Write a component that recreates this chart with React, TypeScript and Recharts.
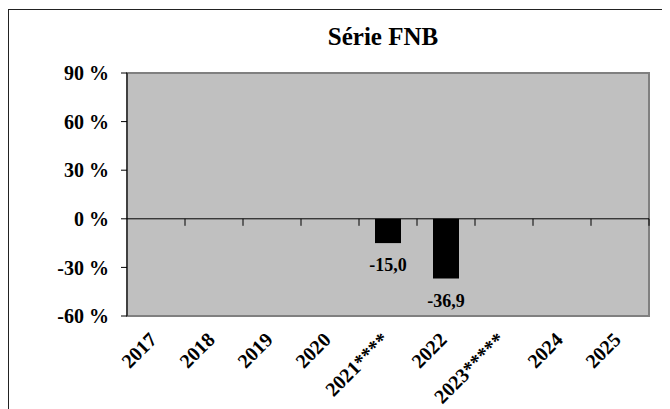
import { BarChart, Bar, XAxis, YAxis, ReferenceArea, ReferenceLine, LabelList } from 'recharts'

const years = ['2017', '2018', '2019', '2020', '2021****', '2022', '2023*****', '2024', '2025']
const fnb: (number | null)[] = [null, null, null, null, -15.0, -36.9, null, null, null]
const yTicks = [-60, -30, 0, 30, 60, 90]

const data = years.map((year, i) => ({ year, fnb: fnb[i] }))

const FONT = '"Liberation Serif", "Times New Roman", serif'

// zero line with small tick marks at the category boundaries
const ZeroAxis = (props: any) => {
  const x1 = Number(props.x1)
  const x2 = Number(props.x2)
  const y = Number(props.y1)
  const step = (x2 - x1) / years.length
  return (
    <g>
      <line x1={x1} x2={x2} y1={y} y2={y} stroke="#000" strokeWidth={1} />
      {years.map((_, i) => (
        <line key={i} x1={x1 + (i + 1) * step} x2={x1 + (i + 1) * step} y1={y} y2={y + 7} stroke="#000" strokeWidth={1} />
      ))}
    </g>
  )
}

const YearTick = (props: any) => {
  const { x, y, payload } = props
  const tx = Number(x) + 2
  const ty = Number(y) + 17
  return (
    <text
      x={tx}
      y={ty}
      transform={`rotate(-45, ${tx}, ${ty})`}
      textAnchor="end"
      fontFamily={FONT}
      fontWeight="bold"
      fontSize={20}
      fill="#000"
    >
      {payload.value}
    </text>
  )
}

const BarValue = (props: any) => {
  const { value } = props
  if (value == null) return null
  const x = Number(props.x)
  const y = Number(props.y)
  const w = Number(props.width)
  const h = Number(props.height)
  const bottom = Math.max(y, y + h)
  return (
    <text x={x + w / 2} y={bottom + 28} textAnchor="middle" fontFamily={FONT} fontWeight="bold" fontSize={18} fill="#000">
      {Number(value).toFixed(1).replace('.', ',')}
    </text>
  )
}

export default function App() {
  return (
    <div style={{ position: 'relative', width: 662, height: 401, overflow: 'hidden', background: '#fff' }}>
      <div
        style={{
          position: 'absolute',
          left: 0,
          top: 1,
          width: 720,
          height: 460,
          borderLeft: '1px solid #222',
          borderTop: '1px solid #222',
        }}
      />
      <div
        style={{
          position: 'absolute',
          left: 0,
          top: 16,
          width: 750,
          textAlign: 'center',
          fontFamily: FONT,
          fontWeight: 'bold',
          fontSize: 25,
          lineHeight: '25px',
          color: '#000',
        }}
      >
        Série FNB
      </div>
      <div style={{ position: 'absolute', left: 0, top: 0 }}>
        <BarChart width={662} height={401} data={data} margin={{ top: 65, right: 21, bottom: 0, left: 0 }}>
          <ReferenceArea y1={-60} y2={90} fill="#c0c0c0" fillOpacity={1} stroke="#808080" strokeWidth={2} />
          <XAxis
            dataKey="year"
            height={93}
            axisLine={false}
            tickLine={false}
            interval={0}
            tick={<YearTick />}
          />
          <YAxis
            domain={[-60, 90]}
            ticks={yTicks}
            width={119}
            axisLine={{ stroke: '#000', strokeWidth: 1 }}
            tickLine={{ stroke: '#000', strokeWidth: 1 }}
            tickSize={6}
            tickMargin={12}
            tickFormatter={(v: number) => `${v} %`}
            tick={{ fontFamily: FONT, fontWeight: 'bold', fontSize: 20, fill: '#000' }}
          />
          <ReferenceLine y={0} shape={<ZeroAxis />} />
          <Bar dataKey="fnb" fill="#000" barSize={26} isAnimationActive={false}>
            <LabelList dataKey="fnb" content={<BarValue />} />
          </Bar>
        </BarChart>
      </div>
    </div>
  )
}
